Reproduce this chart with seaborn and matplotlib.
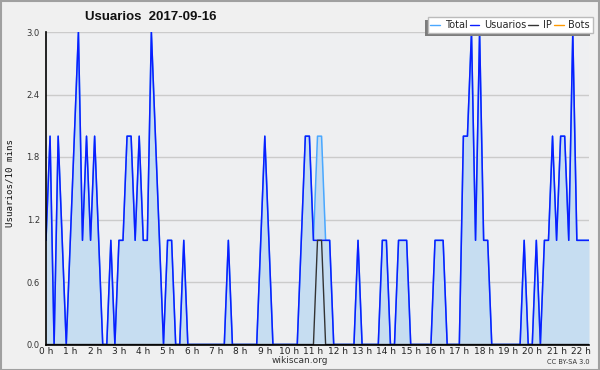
import numpy as np
import pandas as pd
import matplotlib
matplotlib.use("Agg")
import matplotlib.pyplot as plt
import seaborn as sns
from matplotlib.ticker import MultipleLocator, FixedLocator
from matplotlib.patches import Rectangle

# ---- data (10-minute samples starting at 0 h) ----
usuarios = [1, 2, 0, 2, 1, 0, 1, 2, 3, 1, 2, 1, 2, 1, 0, 0, 1, 0, 1, 1,
            2, 2, 1, 2, 1, 1, 3, 2, 1, 0, 1, 1, 0, 0, 1, 0, 0, 0, 0, 0,
            0, 0, 0, 0, 0, 1, 0, 0, 0, 0, 0, 0, 0, 1, 2, 1, 0, 0, 0, 0,
            0, 0, 0, 1, 2, 2, 1, 1, 1, 1, 1, 0, 0, 0, 0, 0, 0, 1, 0, 0,
            0, 0, 0, 1, 1, 0, 0, 1, 1, 1, 0, 0, 0, 0, 0, 0, 1, 1, 1, 0,
            0, 0, 0, 2, 2, 3, 1, 3, 1, 1, 0, 0, 0, 0, 0, 0, 0, 0, 1, 0,
            0, 1, 0, 1, 1, 2, 1, 2, 2, 1, 3, 1, 1, 1, 1]
ip = [0] * len(usuarios)
ip[67] = 1
ip[68] = 1
bots = [0] * len(usuarios)
total = [u + i + b for u, i, b in zip(usuarios, ip, bots)]
hours = [k / 6 for k in range(len(usuarios))]

title = "Usuarios  2017-09-16"
ylabel = "Usuarios/10 mins"
series_names = ["Total", "Usuarios", "IP", "Bots"]
xtick_labels = [f"{h} h" for h in range(23)]
ytick_values = [0.0, 0.6, 1.2, 1.8, 2.4, 3.0]

df = pd.DataFrame({"hour": hours, "Total": total, "Usuarios": usuarios,
                   "IP": ip, "Bots": bots})

# ---- styling ----
sns.set_style("white")
plt.rcParams["font.family"] = ["DejaVu Sans"]

fig_bg = "#f0f0f0"
ax_bg = "#eeeff1"
fill_c = "#c6ddf1"
col = {"Total": "#4aa8ff", "Usuarios": "#0a1eff", "IP": "#333333", "Bots": "#ff9900"}

fig = plt.figure(figsize=(6, 3.7), dpi=100, facecolor=fig_bg)
ax = fig.add_axes([46 / 600, 1 - 344.5 / 370, (589 - 46) / 600, (344.5 - 32) / 370])
ax.set_facecolor(ax_bg)

ax.fill_between(df["hour"], 0, df["Total"], color=fill_c, lw=0, zorder=1)
for y in ytick_values[1:]:
    ax.axhline(y, color="#cbcbcb", lw=1, zorder=0.5)

sns.lineplot(data=df, x="hour", y="Total", color=col["Total"], lw=1.1, ax=ax, zorder=2, label="Total")
sns.lineplot(data=df, x="hour", y="Usuarios", color=col["Usuarios"], lw=1.1, ax=ax, zorder=3, label="Usuarios")
sns.lineplot(data=df, x="hour", y="IP", color=col["IP"], lw=1.0, ax=ax, zorder=4, label="IP")
sns.lineplot(data=df, x="hour", y="Bots", color=col["Bots"], lw=1.0, ax=ax, zorder=1.5, label="Bots")

ax.set_xlim(0, hours[-1])
ax.set_ylim(0, 3.0)

for s in ["top", "right"]:
    ax.spines[s].set_visible(False)
for s in ["left", "bottom"]:
    ax.spines[s].set_color("black")
    ax.spines[s].set_linewidth(1.2)
    ax.spines[s].set_zorder(5)

ax.xaxis.set_major_locator(FixedLocator(list(range(23))))
ax.set_xticklabels(xtick_labels)
ax.xaxis.set_minor_locator(MultipleLocator(1 / 6))
ax.yaxis.set_major_locator(FixedLocator(ytick_values))
ax.set_yticklabels([f"{v:.1f}" for v in ytick_values])
ax.yaxis.set_minor_locator(MultipleLocator(0.15))
ax.tick_params(axis="x", which="major", direction="out", length=3.6, width=1,
               color="black", labelsize=6.5, labelcolor="#222222", pad=-1.6)
ax.tick_params(axis="x", which="minor", direction="out", length=2.2, width=0.9, color="black")
ax.tick_params(axis="y", which="major", direction="out", length=4.3, width=1,
               color="black", labelsize=6, labelcolor="#333333", pad=0.2)
ax.tick_params(axis="y", which="minor", direction="out", length=2.4, width=0.9, color="black")
ax.set_xlabel("")
ax.set_ylabel("")

fig.text(10 / 600, 1 - 183 / 370, ylabel, rotation=90, ha="center", va="center",
         family="DejaVu Sans Mono", fontsize=6.6, color="#111111")
fig.text(151 / 600, 1 - 16.5 / 370, title, ha="center", va="center",
         fontsize=9.5, fontweight="bold", family="Liberation Sans", color="#111111")
fig.text(300 / 600, 1 - 360.5 / 370, "wikiscan.org", ha="center", va="center",
         fontsize=6.5, color="#333333")
fig.text(590 / 600, 1 - 362.5 / 370, "CC BY-SA 3.0", ha="right", va="center",
         fontsize=4.8, color="#333333")

handles, labels = ax.get_legend_handles_labels()
if ax.legend_:
    ax.legend_.remove()
leg = fig.legend(handles, series_names, loc="upper right", bbox_to_anchor=(593 / 600, 1 - 17 / 370),
                 ncol=4, frameon=True, fancybox=False, fontsize=7, handlelength=1.0,
                 handletextpad=0.5, columnspacing=0.2, borderpad=0.3, borderaxespad=0)
leg.set_zorder(6)
leg.get_frame().set_edgecolor("#bbbbbb")
leg.get_frame().set_facecolor("white")
leg.get_frame().set_alpha(1)
for line in leg.get_lines():
    line.set_linewidth(1.0)

# manual shadow (offset left and down)
fig.canvas.draw()
bb = leg.get_frame().get_window_extent()
W, H = fig.bbox.width, fig.bbox.height
fig.patches.append(Rectangle(((bb.x0 - 3) / W, (bb.y0 - 3) / H), bb.width / W, bb.height / H,
                             transform=fig.transFigure, facecolor="#7c7c7c", edgecolor="none",
                             zorder=5.5))

fig.patches.append(Rectangle((0.5 / 600, 0.5 / 370), 598.5 / 600, 368.5 / 370, transform=fig.transFigure,
                             fill=False, edgecolor="#a0a0a0", lw=1.5))

fig.savefig("out.png", dpi=100, facecolor=fig_bg)
